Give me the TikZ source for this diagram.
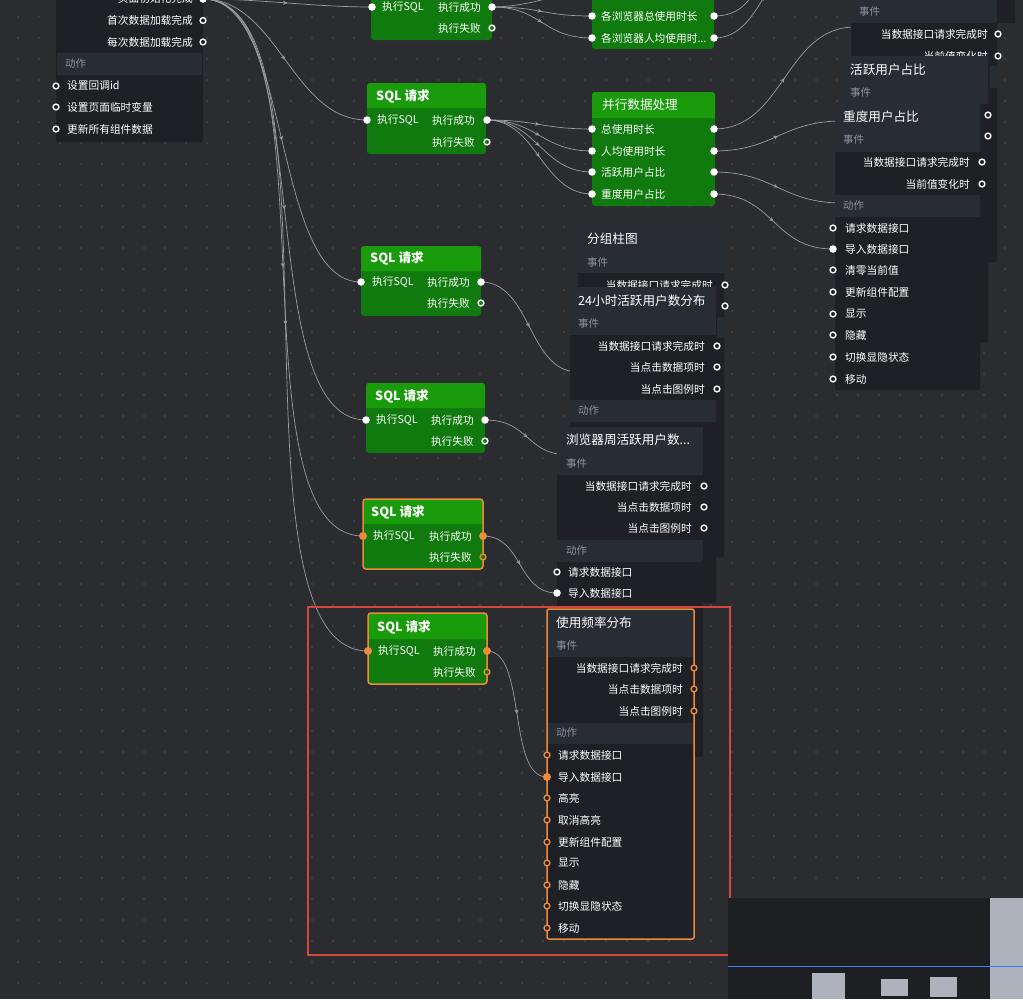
\documentclass[tikz,border=0pt]{standalone}
\usepackage{fontspec}
\setmainfont{Noto Sans CJK SC}
\usetikzlibrary{arrows.meta,decorations.markings,backgrounds}

\definecolor{canvasbg}{HTML}{2A2C30}
\definecolor{griddot}{HTML}{4C4F56}
\definecolor{paneldark}{HTML}{1E2025}
\definecolor{panelhead}{HTML}{282C33}
\definecolor{secgray}{HTML}{8E949D}
\definecolor{sqlhead}{HTML}{1A9B0B}
\definecolor{sqlbody}{HTML}{107A0E}
\definecolor{wiregray}{HTML}{9A9DA3}
\definecolor{selorange}{HTML}{EE8A3C}
\definecolor{selred}{HTML}{D6463E}
\definecolor{mapdark}{HTML}{1D1F23}
\definecolor{mapblue}{HTML}{3B82F6}
\definecolor{mapgray}{HTML}{AEB2BC}

\begin{document}
\begin{tikzpicture}[
		x=1pt, y=-1pt,
		>=Stealth,
		item/.style={text=white, inner sep=0pt, font=\fontsize{10.7}{12}\selectfont},
		evt/.style={item, anchor=east},
		act/.style={item, anchor=west},
		sect/.style={text=secgray, inner sep=0pt, anchor=west, font=\fontsize{10.5}{12}\selectfont},
		ttl/.style={text=white, inner sep=0pt, anchor=west, font=\fontsize{12.6}{14}\selectfont},
		sqlttl/.style={ttl, font=\fontsize{12.6}{14}\selectfont\bfseries},
		portf/.style={circle, fill=white, inner sep=0pt, minimum size=7.5pt},
		porth/.style={circle, draw=white, fill=paneldark, line width=1.4pt, inner sep=0pt, minimum size=5.8pt},
		porthg/.style={porth, fill=sqlbody},
		portof/.style={circle, fill=selorange, inner sep=0pt, minimum size=8pt},
		portoh/.style={circle, draw=selorange, fill=paneldark, line width=1.4pt, inner sep=0pt, minimum size=5.8pt},
		portohg/.style={portoh, fill=sqlbody},
		sqlbox/.style={fill=sqlbody, rounded corners=3pt},
		sqlbar/.style={fill=sqlhead, rounded corners=3pt},
		panel/.style={fill=paneldark, rounded corners=2pt},
		selbox/.style={draw=selorange, line width=1.5pt, rounded corners=2pt},
		wire/.style={draw=wiregray, line width=0.7pt, postaction={decorate},
			decoration={markings, mark=at position 0.5 with {\arrow{Stealth[length=4.5pt,width=4pt]}}}},
	]

	\useasboundingbox (0,0) rectangle (1023,999);

	% ---------- canvas ----------
	\begin{scope}[on background layer]
		\fill[canvasbg] (0,0) rectangle (1023,999);
		\fill[griddot] \foreach \i in {0,...,47} {\foreach \j in {0,...,46} {(18+21*\i,17+21*\j) circle (0.9pt)}};
	\end{scope}

	\clip (0,0) rectangle (1023,999);

	% ---------- page events ----------
	\fill[panel] (56,-40) rectangle (203,142);
	\fill[panelhead] (57,53) rectangle (202,75);
	\node[evt] (pg-l1) at (193,-1.5) {页面初始化完成};
	\node[evt] (pg-l2) at (193,20.5) {首次数据加载完成};
	\node[evt] (pg-l3) at (193,42) {每次数据加载完成};
	\node[portf] (pg-init) at (203,-1) {};
	\node[porth] (pg-first) at (203,20.5) {};
	\node[porth] (pg-each) at (203,42) {};
	\node[sect] (pg-act) at (65,64) {动作};
	\node[act] (pg-l4) at (67,86) {设置回调id};
	\node[act] (pg-l5) at (67,107) {设置页面临时变量};
	\node[act] (pg-l6) at (67,129) {更新所有组件数据};
	\node[porth] (pg-cb) at (56,86) {};
	\node[porth] (pg-var) at (56,107) {};
	\node[porth] (pg-upd) at (56,129) {};

	% ---------- SQL (top) ----------
	\fill[sqlbox] (371,-20) rectangle (492,40);
	\node[act] (sqla-l1) at (382,7) {执行SQL};
	\node[evt] (sqla-l2) at (481,7) {执行成功};
	\node[evt] (sqla-l3) at (481,28) {执行失败};
	\node[portf] (sqla-in) at (372,7) {};
	\node[portf] (sqla-ok) at (492,7) {};
	\node[porthg] (sqla-fail) at (492,28) {};

	% ---------- browser durations ----------
	\fill[sqlbox] (592,-20) rectangle (714,49);
	\node[act] (br-l1) at (601,16) {各浏览器总使用时长};
	\node[act] (br-l2) at (601,38) {各浏览器人均使用时...};
	\node[portf] (br-in1) at (592,16) {};
	\node[portf] (br-in2) at (592,38) {};
	\node[portf] (br-out1) at (714,16) {};
	\node[portf] (br-out2) at (714,38) {};

	% ---------- SQL b ----------
	\fill[sqlbox] (367,83) rectangle (486,154);
	\fill[sqlbar] (367,83) rectangle (486,108);
	\fill[sqlhead] (367,100) rectangle (486,108);
	\node[sqlttl] (sqlb-t) at (376,96) {SQL 请求};
	\node[act] (sqlb-l1) at (377,120) {执行SQL};
	\node[evt] (sqlb-l2) at (475,120) {执行成功};
	\node[evt] (sqlb-l3) at (475,142) {执行失败};
	\node[portf] (sqlb-in) at (367,120) {};
	\node[portf] (sqlb-ok) at (487,120) {};
	\node[porthg] (sqlb-fail) at (487,142) {};

	% ---------- parallel processing ----------
	\fill[sqlbox] (592,92) rectangle (715,206);
	\fill[sqlbar] (592,92) rectangle (715,118);
	\fill[sqlhead] (592,110) rectangle (715,118);
	\node[ttl] (par-t) at (602,105) {并行数据处理};
	\node[act] (par-l1) at (601,129) {总使用时长};
	\node[act] (par-l2) at (601,151) {人均使用时长};
	\node[act] (par-l3) at (601,172) {活跃用户占比};
	\node[act] (par-l4) at (601,194) {重度用户占比};
	\node[portf] (par-in1) at (592,129) {};
	\node[portf] (par-in2) at (592,151) {};
	\node[portf] (par-in3) at (592,172) {};
	\node[portf] (par-in4) at (592,194) {};
	\node[portf] (par-out1) at (714,129) {};
	\node[portf] (par-out2) at (714,151) {};
	\node[portf] (par-out3) at (714,172) {};
	\node[portf] (par-out4) at (714,194) {};

	% ---------- right stack ----------
	\fill[paneldark] (997,-60) rectangle (1015,23);
	\fill[panel] (851,-60) rectangle (997,262);
	\fill[panelhead] (851,-60) rectangle (997,23);
	\fill[panelhead] (990,66) rectangle (997,88);
	\node[sect] (r1-ev) at (859,12) {事件};
	\node[evt] (r1-l1) at (988,34) {当数据接口请求完成时};
	\node[evt] (r1-l2) at (988,56) {当前值变化时};
	\node[porth] (r1-o1) at (998,34) {};
	\node[porth] (r1-o2) at (998,56) {};

	\fill[panel] (842,56) rectangle (988,343);
	\fill[panelhead] (842,56) rectangle (988,104);
	\node[ttl] (r2-t) at (850,70) {活跃用户占比};
	\node[sect] (r2-ev) at (850,93) {事件};
	\node[porth] (r2-o1) at (988,115) {};
	\node[porth] (r2-o2) at (988,136) {};

	\fill[panel] (835,104) rectangle (980,390);
	\fill[panelhead] (835,104) rectangle (980,152);
	\fill[panelhead] (835,195) rectangle (980,217);
	\node[ttl] (r3-t) at (843,117) {重度用户占比};
	\node[sect] (r3-ev) at (843,140) {事件};
	\node[evt] (r3-l1) at (970,162) {当数据接口请求完成时};
	\node[evt] (r3-l2) at (970,184) {当前值变化时};
	\node[porth] (r3-o1) at (982,162) {};
	\node[porth] (r3-o2) at (982,184) {};
	\node[sect] (r3-act) at (843,206) {动作};
	\node[act] (r3-a1) at (845,228) {请求数据接口};
	\node[act] (r3-a2) at (845,249) {导入数据接口};
	\node[act] (r3-a3) at (845,270) {清零当前值};
	\node[act] (r3-a4) at (845,292) {更新组件配置};
	\node[act] (r3-a5) at (845,314) {显示};
	\node[act] (r3-a6) at (845,335) {隐藏};
	\node[act] (r3-a7) at (845,357) {切换显隐状态};
	\node[act] (r3-a8) at (845,379) {移动};
	\node[porth] (r3-in1) at (833,228) {};
	\node[portf] (r3-in2) at (833,249) {};
	\node[porth] (r3-in3) at (833,270) {};
	\node[porth] (r3-in4) at (833,292) {};
	\node[porth] (r3-in5) at (833,314) {};
	\node[porth] (r3-in6) at (833,335) {};
	\node[porth] (r3-in7) at (833,357) {};
	\node[porth] (r3-in8) at (833,379) {};

	% ---------- chart panels ----------
	\fill[panel] (578,226) rectangle (724,557);
	\fill[panelhead] (578,226) rectangle (724,273);
	\fill[panelhead] (717,317) rectangle (724,338);
	\node[ttl] (bar-t) at (587,239) {分组柱图};
	\node[sect] (bar-ev) at (587,263) {事件};
	\node[evt] (bar-l1) at (713,285) {当数据接口请求完成时};
	\node[porth] (bar-o1) at (725,285) {};
	\node[porth] (bar-o2) at (725,306) {};

	\fill[panel] (570,287) rectangle (716,603);
	\fill[panelhead] (570,287) rectangle (716,335);
	\fill[panelhead] (570,400) rectangle (716,422);
	\node[ttl] (h24-t) at (578,301) {24小时活跃用户数分布};
	\node[sect] (h24-ev) at (578,324) {事件};
	\node[evt] (h24-l1) at (705,346) {当数据接口请求完成时};
	\node[evt] (h24-l2) at (705,367) {当点击数据项时};
	\node[evt] (h24-l3) at (705,389) {当点击图例时};
	\node[porth] (h24-o1) at (717,346) {};
	\node[porth] (h24-o2) at (717,367) {};
	\node[porth] (h24-o3) at (717,389) {};
	\node[sect] (h24-act) at (578,411) {动作};

	\fill[panel] (557,427) rectangle (703,757);
	\fill[panelhead] (557,427) rectangle (703,475);
	\fill[panelhead] (557,540) rectangle (703,562);
	\node[ttl] (wk-t) at (566,440) {浏览器周活跃用户数...};
	\node[sect] (wk-ev) at (566,464) {事件};
	\node[evt] (wk-l1) at (692,486) {当数据接口请求完成时};
	\node[evt] (wk-l2) at (692,507) {当点击数据项时};
	\node[evt] (wk-l3) at (692,528) {当点击图例时};
	\node[porth] (wk-o1) at (704,486) {};
	\node[porth] (wk-o2) at (704,507) {};
	\node[porth] (wk-o3) at (704,528) {};
	\node[sect] (wk-act) at (566,551) {动作};
	\node[act] (wk-a1) at (568,572) {请求数据接口};
	\node[act] (wk-a2) at (568,593) {导入数据接口};
	\node[porth] (wk-in1) at (557,572) {};
	\node[portf] (wk-in2) at (557,593) {};

	% ---------- usage frequency (selected) ----------
	\fill[paneldark] (547,609) rectangle (694,939);
	\fill[panelhead] (547,609) rectangle (694,657);
	\fill[panelhead] (547,723) rectangle (694,744);
	\draw[selbox] (547,609) rectangle (694,939);
	\node[ttl] (fq-t) at (556,623) {使用频率分布};
	\node[sect] (fq-ev) at (556,646) {事件};
	\node[evt] (fq-l1) at (683,668) {当数据接口请求完成时};
	\node[evt] (fq-l2) at (683,689) {当点击数据项时};
	\node[evt] (fq-l3) at (683,711) {当点击图例时};
	\node[portoh] (fq-o1) at (694,668) {};
	\node[portoh] (fq-o2) at (694,689) {};
	\node[portoh] (fq-o3) at (694,711) {};
	\node[sect] (fq-act) at (556,733) {动作};
	\node[act] (fq-a1) at (558,755) {请求数据接口};
	\node[act] (fq-a2) at (558,777) {导入数据接口};
	\node[act] (fq-a3) at (558,798) {高亮};
	\node[act] (fq-a4) at (558,820) {取消高亮};
	\node[act] (fq-a5) at (558,842) {更新组件配置};
	\node[act] (fq-a6) at (558,863) {显示};
	\node[act] (fq-a7) at (558,885) {隐藏};
	\node[act] (fq-a8) at (558,906) {切换显隐状态};
	\node[act] (fq-a9) at (558,928) {移动};
	\node[portoh] (fq-in1) at (547,755) {};
	\node[portof] (fq-in2) at (547,777) {};
	\node[portoh] (fq-in3) at (547,798) {};
	\node[portoh] (fq-in4) at (547,820) {};
	\node[portoh] (fq-in5) at (547,842) {};
	\node[portoh] (fq-in6) at (547,863) {};
	\node[portoh] (fq-in7) at (547,885) {};
	\node[portoh] (fq-in8) at (547,906) {};
	\node[portoh] (fq-in9) at (547,928) {};

	% ---------- SQL c ----------
	\fill[sqlbox] (361,246) rectangle (481,316);
	\fill[sqlbar] (361,246) rectangle (481,271);
	\fill[sqlhead] (361,263) rectangle (481,271);
	\node[sqlttl] (sqlc-t) at (370,258.5) {SQL 请求};
	\node[act] (sqlc-l1) at (372,282) {执行SQL};
	\node[evt] (sqlc-l2) at (470,282) {执行成功};
	\node[evt] (sqlc-l3) at (470,303) {执行失败};
	\node[portf] (sqlc-in) at (361,282) {};
	\node[portf] (sqlc-ok) at (481,282) {};
	\node[porthg] (sqlc-fail) at (481,303) {};

	% ---------- SQL d ----------
	\fill[sqlbox] (366,383) rectangle (485,453);
	\fill[sqlbar] (366,383) rectangle (485,408);
	\fill[sqlhead] (366,400) rectangle (485,408);
	\node[sqlttl] (sqld-t) at (375,396) {SQL 请求};
	\node[act] (sqld-l1) at (376,420) {执行SQL};
	\node[evt] (sqld-l2) at (474,420) {执行成功};
	\node[evt] (sqld-l3) at (474,441) {执行失败};
	\node[portf] (sqld-in) at (366,420) {};
	\node[portf] (sqld-ok) at (485,420) {};
	\node[porthg] (sqld-fail) at (485,441) {};

	% ---------- SQL e (selected) ----------
	\fill[sqlbox] (363,499) rectangle (483,569);
	\fill[sqlbar] (363,499) rectangle (483,524);
	\fill[sqlhead] (363,516) rectangle (483,524);
	\draw[selbox, rounded corners=3pt] (363,499) rectangle (483,569);
	\node[sqlttl] (sqle-t) at (371,512) {SQL 请求};
	\node[act] (sqle-l1) at (373,536) {执行SQL};
	\node[evt] (sqle-l2) at (472,536) {执行成功};
	\node[evt] (sqle-l3) at (472,557) {执行失败};
	\node[portof] (sqle-in) at (363,536) {};
	\node[portof] (sqle-ok) at (483,536) {};
	\node[portohg] (sqle-fail) at (483,557) {};

	% ---------- SQL f (selected) ----------
	\fill[sqlbox] (368,613) rectangle (487,684);
	\fill[sqlbar] (368,613) rectangle (487,639);
	\fill[sqlhead] (368,631) rectangle (487,639);
	\draw[selbox, rounded corners=3pt] (368,613) rectangle (487,684);
	\node[sqlttl] (sqlf-t) at (377,627) {SQL 请求};
	\node[act] (sqlf-l1) at (378,651) {执行SQL};
	\node[evt] (sqlf-l2) at (476,651) {执行成功};
	\node[evt] (sqlf-l3) at (476,672) {执行失败};
	\node[portof] (sqlf-in) at (368,651) {};
	\node[portof] (sqlf-ok) at (487,651) {};
	\node[portohg] (sqlf-fail) at (487,672) {};

	% ---------- wires ----------
	\begin{scope}[on background layer]
		\clip (0,0) rectangle (1023,999);
		\coordinate (sqla-up) at (640,-20);
		\coordinate (br-up1) at (800,-40);
		\coordinate (br-up2) at (815,-45);
		\coordinate (r1-in) at (855,27);
		\coordinate (r2-in1) at (842,121);
		\coordinate (r2-in2) at (842,203);
		\coordinate (bar-in) at (578,372);
		\coordinate (h24-in) at (570,455);
		\draw[wire] (pg-init.center) .. controls +(60,0) and +(-60,0) .. (sqla-in.center);
		\draw[wire] (pg-init.center) .. controls +(75,0) and +(-75,0) .. (sqlb-in.center);
		\draw[wire] (pg-init.center) .. controls +(90,0) and +(-90,0) .. (sqlc-in.center);
		\draw[wire] (pg-init.center) .. controls +(115,0) and +(-115,0) .. (sqld-in.center);
		\draw[wire] (pg-init.center) .. controls +(135,0) and +(-135,0) .. (sqle-in.center);
		\draw[wire] (pg-init.center) .. controls +(150,0) and +(-150,0) .. (sqlf-in.center);
		\draw[wire] (sqla-ok.center) .. controls +(50,0) and +(-50,0) .. (sqla-up);
		\draw[wire] (sqla-ok.center) .. controls +(50,0) and +(-50,0) .. (br-in1.center);
		\draw[wire] (sqla-ok.center) .. controls +(50,0) and +(-50,0) .. (br-in2.center);
		\draw[wire] (br-out1.center) .. controls +(50,0) and +(-50,0) .. (br-up1);
		\draw[wire] (br-out2.center) .. controls +(50,0) and +(-50,0) .. (br-up2);
		\draw[wire] (sqlb-ok.center) .. controls +(50,0) and +(-50,0) .. (par-in1.center);
		\draw[wire] (sqlb-ok.center) .. controls +(50,0) and +(-50,0) .. (par-in2.center);
		\draw[wire] (sqlb-ok.center) .. controls +(50,0) and +(-50,0) .. (par-in3.center);
		\draw[wire] (sqlb-ok.center) .. controls +(50,0) and +(-50,0) .. (par-in4.center);
		\draw[wire] (par-out1.center) .. controls +(70,0) and +(-70,0) .. (r1-in);
		\draw[wire] (par-out2.center) .. controls +(60,0) and +(-60,0) .. (r2-in1);
		\draw[wire] (par-out3.center) .. controls +(60,0) and +(-60,0) .. (r2-in2);
		\draw[wire] (par-out4.center) .. controls +(60,0) and +(-60,0) .. (r3-in2.center);
		\draw[wire] (sqlc-ok.center) .. controls +(50,0) and +(-50,0) .. (bar-in);
		\draw[wire] (sqld-ok.center) .. controls +(45,0) and +(-45,0) .. (h24-in);
		\draw[wire] (sqle-ok.center) .. controls +(40,0) and +(-40,0) .. (wk-in2.center);
		\draw[wire] (sqlf-ok.center) .. controls +(40,0) and +(-40,0) .. (fq-in2.center);
	\end{scope}

	% ---------- selection and minimap ----------
	\draw[selred, line width=1.6pt] (308,607) rectangle (730,955);
	\fill[mapdark] (728,898) rectangle (1023,999);
	\fill[mapgray] (812,973) rectangle (845,999);
	\fill[mapgray] (881,979) rectangle (908,996);
	\fill[mapgray] (930,977) rectangle (957,997);
	\fill[mapgray] (990,898) rectangle (1023,999);
	\draw[mapblue, line width=1pt] (728,966) -- (1023,966);

\end{tikzpicture}
\end{document}
